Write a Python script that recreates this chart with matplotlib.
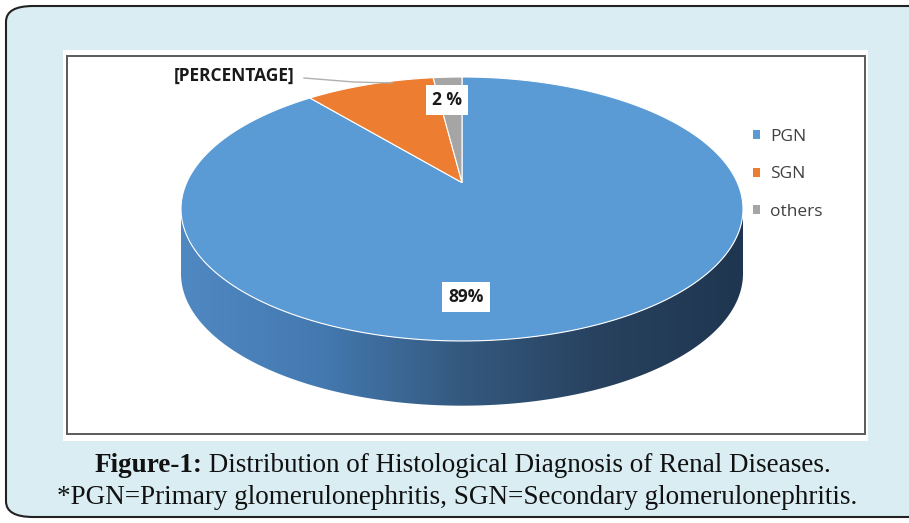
import matplotlib.pyplot as plt
import numpy as np
from matplotlib.patches import FancyBboxPatch, Rectangle, Polygon
from matplotlib.colors import LinearSegmentedColormap

categories = ['PGN', 'SGN', 'others']
values = [89, 9, 2]
colors = ['#5b9bd5', '#ed7d31', '#a5a5a5']
label_texts = ['89%', '[PERCENTAGE]', '2 %']
caption_bold = 'Figure-1:'
caption_1 = ' Distribution of Histological Diagnosis of Renal Diseases.'
caption_2 = '*PGN=Primary glomerulonephritis, SGN=Secondary glomerulonephritis.'

W, H = 909, 523
fig = plt.figure(figsize=(W / 100, H / 100), dpi=100)


def fx(x):
    return x / W


def fy(y):
    return 1 - y / H


# outer rounded panel
fig.patches.append(FancyBboxPatch((fx(6), fy(517)), fx(930), fy(6) - fy(517),
                                  boxstyle='round,pad=0,rounding_size=0.03',
                                  transform=fig.transFigure, facecolor='#d9edf3',
                                  edgecolor='#222222', linewidth=1.5, zorder=-10))
# white chart area + grey border
fig.patches.append(Rectangle((fx(63), fy(441)), fx(868 - 63), fy(50) - fy(441),
                             transform=fig.transFigure, facecolor='white',
                             edgecolor='none', zorder=-9))
fig.patches.append(Rectangle((fx(67), fy(434)), fx(865 - 67), fy(56) - fy(434),
                             transform=fig.transFigure, facecolor='none',
                             edgecolor='#5a5a5a', linewidth=1.4, zorder=-8))

# pie axes: top face ellipse spans x 181..743, y 77..341 ; side goes down to ~406
depth = 0.49
top_px, face_bot_px = 77, 341
ry_px = (face_bot_px - top_px) / 2
bot_px = face_bot_px + depth * ry_px
ax = fig.add_axes([fx(181), fy(bot_px), fx(743 - 181), fy(top_px) - fy(bot_px)])

# perspective tilt: true centre of the disc seen above the ellipse centre
k = 0.2


def persp(x, y):
    d = 1 + k * y
    return x * np.sqrt(1 - k * k) / d, (y + k) / d


# side band (front half of the cylinder)
theta = np.linspace(np.pi, 2 * np.pi, 200)
xs = np.cos(theta)
ys = np.sin(theta)
side_pts = np.concatenate([np.column_stack([xs, ys]),
                           np.column_stack([xs[::-1], ys[::-1] - depth])])
side = Polygon(side_pts, closed=True, facecolor='none', edgecolor='none')
ax.add_patch(side)
grad = np.linspace(0, 1, 256).reshape(1, -1)
cmap = LinearSegmentedColormap.from_list('side', ['#5088c2', '#4479b0', '#34597f', '#27415e', '#1f3650'])
im = ax.imshow(grad, extent=[-1, 1, -1 - depth, 0], cmap=cmap, aspect='auto', zorder=1)
im.set_clip_path(side)

# pie gives the wedge angles; draw each wedge with the perspective applied
wedges, _ = ax.pie(values, colors=colors, startangle=90, counterclock=False)
slices = []
for w, c in zip(wedges, colors):
    t = np.radians(np.linspace(w.theta1, w.theta2, 200))
    px, py = persp(np.r_[0, np.cos(t)], np.r_[0, np.sin(t)])
    p = Polygon(np.column_stack([px, py]), closed=True, facecolor=c,
                edgecolor='white', linewidth=0.8, zorder=2)
    ax.add_patch(p)
    slices.append(p)
    w.set_visible(False)
ax.set_aspect('auto')
ax.set_xlim(-1, 1)
ax.set_ylim(-1 - depth, 1)
ax.axis('off')

# data labels
box = dict(facecolor='white', edgecolor='none', pad=4.5)
lab_font = dict(family='Open Sans', fontweight='bold', fontsize=12.5, color='#1a1a1a')
fig.text(fx(466), fy(297), label_texts[0], ha='center', va='center', bbox=box, **lab_font)
fig.text(fx(447), fy(100), label_texts[2], ha='center', va='center', bbox=box, **lab_font)
fig.text(fx(234), fy(76), label_texts[1], ha='center', va='center', **lab_font)
fig.add_artist(plt.Line2D([fx(304), fx(354), fx(392)], [fy(78), fy(82), fy(83)],
                          color='#b0b0b0', linewidth=1, transform=fig.transFigure))

# legend
leg = fig.legend(slices, categories, loc='upper left', bbox_to_anchor=(fx(737), fy(113)),
                 frameon=False, handlelength=0.42, handleheight=0.42, handletextpad=0.6,
                 labelspacing=1.25, prop=dict(family='Open Sans', size=12.5))
for h in leg.legend_handles:
    h.set_edgecolor('none')
for t in leg.get_texts():
    t.set_color('#404040')

# caption
cap_font = dict(family='Liberation Serif', fontsize=19.5, color='#111111', va='center')
r = fig.canvas.get_renderer()
t1 = fig.text(0, fy(466), caption_bold, fontweight='bold', ha='left', **cap_font)
t2 = fig.text(0, fy(466), caption_1, ha='left', **cap_font)
w1 = t1.get_window_extent(r).width
w2 = t2.get_window_extent(r).width
x0 = (W - w1 - w2) / 2 + 8
t1.set_x(fx(x0))
t2.set_x(fx(x0 + w1))
fig.text(fx(457), fy(497), caption_2, ha='center', **cap_font)

plt.savefig('out.png', dpi=100)
